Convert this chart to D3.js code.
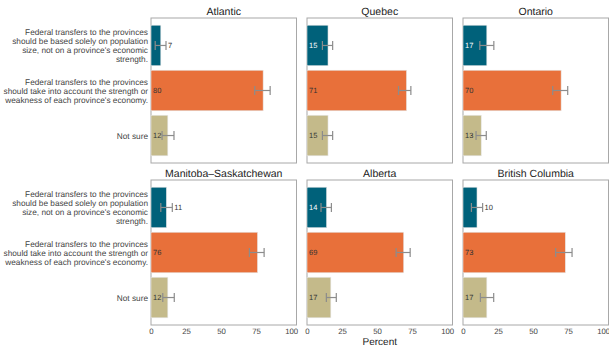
<!DOCTYPE html>
<html><head><meta charset="utf-8">
<script src="https://cdn.jsdelivr.net/npm/d3@7"></script>
<style>body{margin:0;background:#fff}svg{display:block;font-family:"Liberation Sans",Arial,sans-serif;text-rendering:geometricPrecision}</style>
</head><body><svg id="c" width="609" height="348"></svg>
<script>
const regions = ["Atlantic","Quebec","Ontario","Manitoba–Saskatchewan","Alberta","British Columbia"];
const categories = [
  ["Federal transfers to the provinces","should be based solely on population","size, not on a province's economic","strength."],
  ["Federal transfers to the provinces","should take into account the strength or","weakness of each province's economy."],
  ["Not sure"]
];
const popValues = [7,15,17,11,14,10];
const accountValues = [80,71,70,76,69,73];
const notSureValues = [12,15,13,12,17,17];
const popLow = [3,11,12,7,10,6], popHigh = [10.7,18.3,22,15.2,17.4,14];
const accountLow = [74,65.3,64,70.2,63.6,66.1], accountHigh = [85,74.1,74.7,80.7,73.6,77.8];
const notSureLow = [7.9,11,9.3,8.4,13.8,12.4], notSureHigh = [16.4,18.3,16.6,16.6,20.9,21.9];
const ticks = [0,25,50,75,100];
const colors = ["#00617a","#e8703a","#c4ba8a"];

const svg = d3.select("#c");
const panelW = 145.5, panelH = 145;
const lefts = [151, 307, 463];
const tops = [18, 180];

regions.forEach((r,i)=>{
  const col = i%3, row = Math.floor(i/3);
  const x0 = lefts[col], y0 = tops[row];
  const x = d3.scaleLinear().domain([0,103.8]).range([x0, x0+panelW]);
  const y = d3.scaleBand().domain([0,1,2]).range([y0, y0+panelH]).paddingInner(0.1).paddingOuter(0.16);
  const g = svg.append("g");
  g.append("rect").attr("x",x0).attr("y",y0).attr("width",panelW).attr("height",panelH)
    .attr("fill","#fff").attr("stroke","#a8a8a8").attr("stroke-width",1);
  g.append("text").attr("x",x0+panelW/2).attr("y",y0-3.5).attr("text-anchor","middle")
    .attr("font-size",10.5).attr("fill","#222").text(r);
  const vals = [popValues[i],accountValues[i],notSureValues[i]];
  const lo = [popLow[i],accountLow[i],notSureLow[i]];
  const hi = [popHigh[i],accountHigh[i],notSureHigh[i]];
  vals.forEach((v,k)=>{
    const by = y(k), bh = y.bandwidth();
    g.append("rect").attr("x",x(0)).attr("y",by).attr("width",x(v)-x(0)).attr("height",bh)
      .attr("fill",colors[k]).attr("stroke","#e6e6e6").attr("stroke-width",0.6);
    const cy = by+bh/2;
    const eg = g.append("g").attr("stroke","#8c8c8c").attr("stroke-width",1.2).attr("fill","none");
    eg.append("line").attr("x1",x(lo[k])).attr("x2",x(hi[k])).attr("y1",cy).attr("y2",cy);
    eg.append("line").attr("x1",x(lo[k])).attr("x2",x(lo[k])).attr("y1",cy-4.5).attr("y2",cy+4.5);
    eg.append("line").attr("x1",x(hi[k])).attr("x2",x(hi[k])).attr("y1",cy-4.5).attr("y2",cy+4.5);
    const inside = v >= 12;
    g.append("text").attr("x", inside ? x(0)+2 : x(hi[k])+2).attr("y",cy+2.6)
      .attr("font-size",7.5).attr("fill", inside && k===0 ? "#fff" : "#333").text(v);
  });
  if (col===0) {
    categories.forEach((lines,k)=>{
      const cy = y(k)+y.bandwidth()/2;
      const lh = 9;
      const start = cy - (lines.length-1)*lh/2 + 3;
      const t = g.append("text").attr("text-anchor","end").attr("font-size",8.25).attr("fill","#444");
      lines.forEach((ln,j)=>{
        t.append("tspan").attr("x",x0-3).attr("y",start+j*lh).text(ln);
      });
    });
  }
  if (row===1) {
    const ax = d3.axisBottom(x).tickValues(ticks).tickSize(0).tickPadding(3);
    const a = g.append("g").attr("transform",`translate(0,${y0+panelH})`).call(ax);
    a.select(".domain").remove();
    a.selectAll("text").attr("font-size",7.8).attr("fill","#444").attr("font-family","Liberation Sans, Arial, sans-serif");
  }
});
svg.append("text").attr("x",lefts[1]+panelW/2).attr("y",345).attr("text-anchor","middle")
  .attr("font-size",10).attr("fill","#222").text("Percent");
</script></body></html>
